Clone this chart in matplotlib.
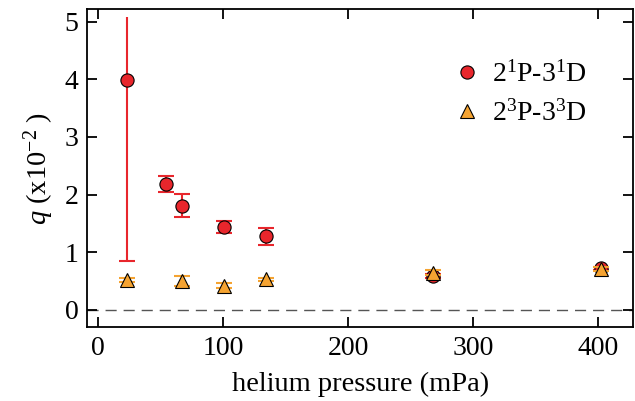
import matplotlib
matplotlib.use("Agg")
import matplotlib.pyplot as plt

plt.rcParams['font.family'] = ['Liberation Serif', 'DejaVu Serif']
plt.rcParams['mathtext.fontset'] = 'custom'
plt.rcParams['mathtext.rm'] = 'Liberation Serif'
plt.rcParams['mathtext.it'] = 'Liberation Serif:italic'

# Data
singlet_x = [23, 54, 67.5, 101, 134, 268, 402]
singlet_y = [3.98, 2.19, 1.81, 1.44, 1.28, 0.59, 0.72]
singlet_err_lo = [3.13, 0.15, 0.19, 0.10, 0.16, 0.03, 0.03]
singlet_err_hi = [1.10, 0.14, 0.20, 0.11, 0.15, 0.03, 0.03]

triplet_x = [23, 67.5, 101, 134, 268, 402]
triplet_y = [0.52, 0.50, 0.42, 0.53, 0.65, 0.71]
triplet_err = [0.03, 0.09, 0.04, 0.03, 0.04, 0.03]

x_ticks = [0, 100, 200, 300, 400]
y_ticks = [0, 1, 2, 3, 4, 5]

red = '#e8262c'
orange = '#f5a331'

fig = plt.figure(figsize=(6.35, 4.01), dpi=100)
ax = fig.add_axes([87/635, 1-327.3/401, (633.3-87)/635, (327.3-9.5)/401])

ax.axhline(0, color='#555555', lw=1.0, dashes=(8, 5), zorder=1)

c1 = ax.errorbar(singlet_x, singlet_y, yerr=[singlet_err_lo, singlet_err_hi],
                 fmt='o', color=red, ecolor=red, elinewidth=1.5, capsize=6,
                 capthick=1.5, markersize=9.5, zorder=3)
c2 = ax.errorbar(triplet_x, triplet_y, yerr=triplet_err, fmt='^', color=orange,
                 ecolor=orange, elinewidth=1.5, capsize=6, capthick=1.5,
                 markersize=10.5, zorder=4)
for cont in (c1, c2):
    cont.lines[0].set_markeredgecolor('black')
    cont.lines[0].set_markeredgewidth(0.8)
# no cap on the top end of the first (very long) error bar
c1.lines[1][1].set_markevery(list(range(1, len(singlet_x))))

ax.set_xlim(-8.8, 428.2)
ax.set_ylim(-0.30, 5.21)
ax.set_xticks(x_ticks)
ax.set_yticks(y_ticks)
ax.tick_params(direction='in', length=7.5, width=1.3, top=True, right=True,
               labelsize=20, pad=6)
for s in ax.spines.values():
    s.set_linewidth(1.3)

ax.set_xlabel('helium pressure (mPa)', fontsize=20.5, labelpad=8)
ax.set_ylabel('$q$ (x10$^{-2}$ )', fontsize=20.5, labelpad=6)

ax.legend([c1.lines[0], c2.lines[0]], ['2$^{1}$P-3$^{1}$D', '2$^{3}$P-3$^{3}$D'],
          loc='upper left', bbox_to_anchor=(0.625, 0.915), frameon=False,
          fontsize=20, handletextpad=0.4, labelspacing=0.45, handlelength=1.0)

fig.savefig('out.png', dpi=100)
